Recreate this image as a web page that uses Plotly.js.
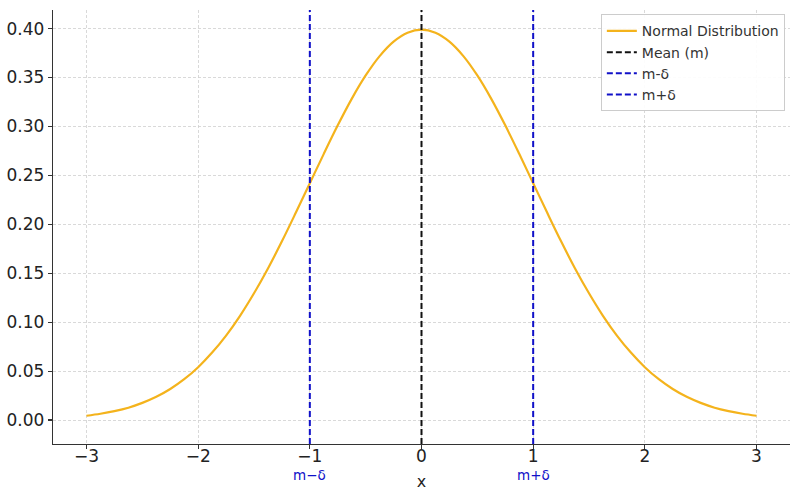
<!DOCTYPE html>
<html>
<head>
<meta charset="utf-8">
<script src="https://cdn.plot.ly/plotly-3.0.1.min.js"></script>
<style>html,body{margin:0;padding:0;background:#fff}#chart{width:800px;height:500px}</style>
</head>
<body>
<div id="chart"></div>
<script>
// Curve values
const xValues = [-3, -2.875, -2.75, -2.625, -2.5, -2.375, -2.25, -2.125, -2, -1.875, -1.75, -1.625, -1.5, -1.375, -1.25, -1.125,
                 -1, -0.875, -0.75, -0.625, -0.5, -0.375, -0.25, -0.125, 0,
                 0.125, 0.25, 0.375, 0.5, 0.625, 0.75, 0.875, 1,
                 1.125, 1.25, 1.375, 1.5, 1.625, 1.75, 1.875, 2, 2.125, 2.25, 2.375, 2.5, 2.625, 2.75, 2.875, 3];
const densityValues = [0.0044, 0.0064, 0.0091, 0.0126, 0.0175, 0.0237, 0.0317, 0.0417, 0.0540, 0.0689, 0.0863, 0.1065, 0.1295, 0.1549, 0.1826, 0.2120,
                       0.2420, 0.2720, 0.3011, 0.3282, 0.3521, 0.3719, 0.3867, 0.3958, 0.3989,
                       0.3958, 0.3867, 0.3719, 0.3521, 0.3282, 0.3011, 0.2720, 0.2420,
                       0.2120, 0.1826, 0.1549, 0.1295, 0.1065, 0.0863, 0.0689, 0.0540, 0.0417, 0.0317, 0.0237, 0.0175, 0.0126, 0.0091, 0.0064, 0.0044];
const meanValue = 0;
const lowerValue = -1;
const upperValue = 1;
const seriesNames = ["Normal Distribution", "Mean (m)", "m-δ", "m+δ"];
const markerLabels = ["m−δ", "m+δ"];
const xTicks = [-3, -2, -1, 0, 1, 2, 3];
const xTickLabels = ["−3", "−2", "−1", "0", "1", "2", "3"];
const yTicks = [0, 0.05, 0.10, 0.15, 0.20, 0.25, 0.30, 0.35, 0.40];

const yRange = [-0.0245, 0.419];
const FONT = "DejaVu Sans, sans-serif";
const BLUE = "#1010c8";

const vline = (xv, name, color) => ({
  x: [xv, xv], y: yRange, mode: "lines", name: name,
  line: {color: color, width: 2, dash: "6px,3px"}, hoverinfo: "skip"
});

const traces = [
  {x: xValues, y: densityValues, mode: "lines", name: seriesNames[0],
   line: {color: "#f4b31c", width: 2.2, shape: "spline"}},
  vline(meanValue, seriesNames[1], "#111111"),
  vline(lowerValue, seriesNames[2], BLUE),
  vline(upperValue, seriesNames[3], BLUE)
];

const layout = {
  width: 800, height: 500,
  margin: {l: 53, r: 10, t: 10, b: 56},
  paper_bgcolor: "#fff", plot_bgcolor: "#fff",
  font: {family: FONT, color: "#222"},
  showlegend: true,
  legend: {x: 0.993, y: 0.99, xanchor: "right", yanchor: "top",
           bgcolor: "rgba(255,255,255,0.9)", bordercolor: "#cccccc", borderwidth: 1,
           font: {size: 14, family: FONT, color: "#333"}, tracegroupgap: 0},
  xaxis: {
    range: [-3.3, 3.3], tickvals: xTicks, ticktext: xTickLabels,
    showline: true, linecolor: "#333", linewidth: 1.3, mirror: false,
    ticks: "outside", ticklen: 4, tickcolor: "#333", tickwidth: 1.2,
    ticklabelstandoff: -8,
    tickfont: {size: 17, family: FONT, color: "#222"},
    showgrid: true, gridcolor: "#d0d0d0", griddash: "3px,2px", gridwidth: 0.8,
    zeroline: false,
    title: {text: "x", font: {size: 16, family: FONT, color: "#222"}, standoff: 11}
  },
  yaxis: {
    range: yRange, tickvals: yTicks, tickformat: ".2f",
    showline: true, linecolor: "#333", linewidth: 1.3,
    ticks: "outside", ticklen: 4, tickcolor: "#333", tickwidth: 1.2,
    ticklabelstandoff: 0,
    tickfont: {size: 17, family: FONT, color: "#222"},
    showgrid: true, gridcolor: "#d0d0d0", griddash: "3px,2px", gridwidth: 0.8,
    zeroline: false
  },
  annotations: [
    {x: lowerValue, xref: "x", y: -0.071, yref: "paper", text: markerLabels[0], showarrow: false,
     yanchor: "middle", font: {size: 13.5, family: FONT, color: BLUE}},
    {x: upperValue, xref: "x", y: -0.071, yref: "paper", text: markerLabels[1], showarrow: false,
     yanchor: "middle", font: {size: 13.5, family: FONT, color: BLUE}}
  ]
};

Plotly.newPlot("chart", traces, layout, {displayModeBar: false, staticPlot: true});
</script>
</body>
</html>
